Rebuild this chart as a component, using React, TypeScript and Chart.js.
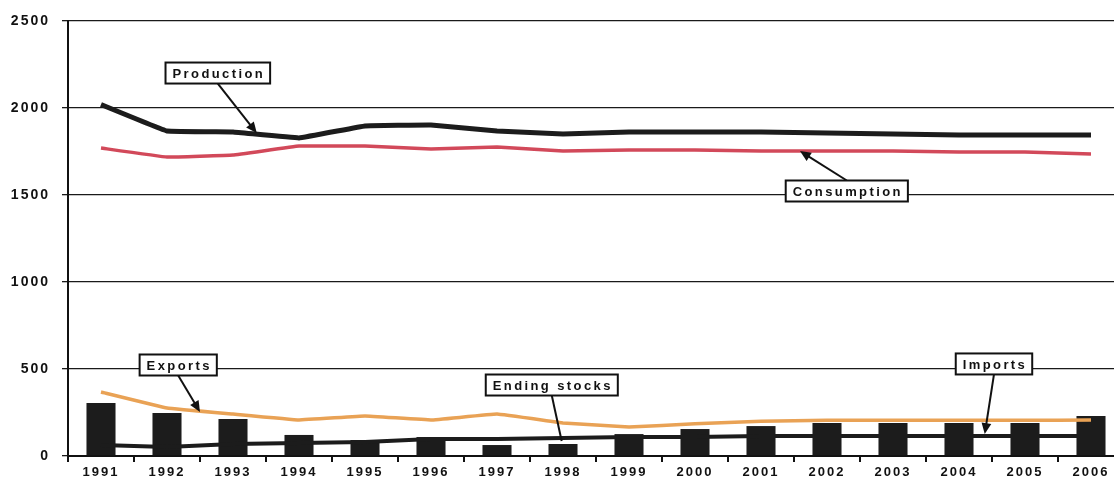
import { useEffect, useRef } from 'react';
import { Chart, registerables } from 'chart.js';

Chart.register(...registerables);

const years = ['1991', '1992', '1993', '1994', '1995', '1996', '1997', '1998', '1999', '2000', '2001', '2002', '2003', '2004', '2005', '2006'];
const production = [2020, 1868, 1862, 1828, 1897, 1902, 1868, 1851, 1862, 1862, 1862, 1857, 1851, 1845, 1845, 1845];
const consumption = [1770, 1718, 1730, 1781, 1781, 1765, 1776, 1753, 1759, 1759, 1753, 1753, 1753, 1747, 1747, 1736];
const exportsVals = [368, 276, 241, 207, 230, 207, 241, 190, 167, 185, 200, 205, 205, 205, 205, 207];
const importsVals = [63, 52, 69, 75, 80, 98, 98, 103, 109, 109, 115, 115, 115, 115, 115, 115];
const endingStocks = [305, 247, 213, 121, 92, 109, 63, 69, 126, 155, 172, 190, 190, 190, 190, 230];
const yTicks = [0, 500, 1000, 1500, 2000, 2500];

// Callout labels: box centre and pointer tip, both in (category index, value) units
const callouts = [
  { text: 'Production', bx: 1.77, by: 2201, tx: 2.36, ty: 1856, head: true },
  { text: 'Consumption', bx: 11.3, by: 1523, tx: 10.59, ty: 1753, head: true },
  { text: 'Exports', bx: 1.17, by: 523, tx: 1.5, ty: 253, head: true },
  { text: 'Ending stocks', bx: 6.83, by: 408, tx: 6.98, ty: 86, head: false },
  { text: 'Imports', bx: 13.53, by: 529, tx: 13.39, ty: 126, head: true },
];

const FONT = '"Liberation Sans", Arial, sans-serif';

const spacingPlugin = {
  id: 'spacing',
  beforeDraw(chart: any) {
    chart.ctx.letterSpacing = '2px';
  },
};

const calloutPlugin = {
  id: 'callouts',
  afterDatasetsDraw(chart: any) {
    const { ctx, scales } = chart;
    const xs = scales.x;
    const ys = scales.y;
    const xAt = (i: number) => {
      const a = xs.getPixelForValue(Math.floor(i));
      const b = xs.getPixelForValue(Math.floor(i) + 1);
      return a + (b - a) * (i - Math.floor(i));
    };
    ctx.save();
    ctx.font = `bold 13px ${FONT}`;
    ctx.letterSpacing = '2.4px';
    callouts.forEach((c) => {
      const cx = xAt(c.bx);
      const cy = ys.getPixelForValue(c.by);
      const tx = xAt(c.tx);
      const ty = ys.getPixelForValue(c.ty);
      const w = ctx.measureText(c.text).width + 12;
      const h = 21;
      // pointer
      const sy = ty > cy ? cy + h / 2 : cy - h / 2;
      const ang = Math.atan2(ty - sy, tx - cx);
      const hl = c.head ? 12 : 0;
      ctx.strokeStyle = '#111';
      ctx.lineWidth = 2;
      ctx.beginPath();
      ctx.moveTo(cx, sy);
      ctx.lineTo(tx - Math.cos(ang) * hl * 0.8, ty - Math.sin(ang) * hl * 0.8);
      ctx.stroke();
      if (c.head) {
        ctx.fillStyle = '#111';
        ctx.beginPath();
        ctx.moveTo(tx, ty);
        ctx.lineTo(tx - Math.cos(ang - 0.42) * hl, ty - Math.sin(ang - 0.42) * hl);
        ctx.lineTo(tx - Math.cos(ang + 0.42) * hl, ty - Math.sin(ang + 0.42) * hl);
        ctx.closePath();
        ctx.fill();
      }
      // box
      ctx.fillStyle = '#fff';
      ctx.fillRect(cx - w / 2, cy - h / 2, w, h);
      ctx.lineWidth = 2;
      ctx.strokeRect(cx - w / 2, cy - h / 2, w, h);
      ctx.fillStyle = '#111';
      ctx.textAlign = 'center';
      ctx.textBaseline = 'middle';
      ctx.fillText(c.text, cx + 1, cy + 1);
    });
    ctx.restore();
  },
};

export default function App() {
  const ref = useRef<HTMLCanvasElement>(null);

  useEffect(() => {
    const chart = new Chart(ref.current!, {
      type: 'bar',
      data: {
        labels: years,
        datasets: [
          { type: 'line', label: 'Production', data: production, borderColor: '#1c1c1c', borderWidth: 5, pointRadius: 0, tension: 0.05, order: 1 },
          { type: 'line', label: 'Consumption', data: consumption, borderColor: '#d2495a', borderWidth: 3.5, pointRadius: 0, tension: 0.05, order: 1 },
          { type: 'line', label: 'Exports', data: exportsVals, borderColor: '#e9a255', borderWidth: 3.5, pointRadius: 0, tension: 0.05, order: 1 },
          { type: 'line', label: 'Imports', data: importsVals, borderColor: '#1c1c1c', borderWidth: 4, pointRadius: 0, tension: 0.05, order: 1 },
          { type: 'bar', label: 'Ending stocks', data: endingStocks, backgroundColor: '#1c1c1c', barPercentage: 0.44, categoryPercentage: 1, order: 2 },
        ],
      },
      options: {
        responsive: false,
        animation: false,
        devicePixelRatio: 1,
        layout: { padding: { top: 21, right: 2, left: 0, bottom: 0 } },
        plugins: { legend: { display: false }, tooltip: { enabled: false } },
        scales: {
          x: {
            offset: true,
            grid: { offset: true, drawOnChartArea: false, drawTicks: true, tickLength: 6, color: '#111', lineWidth: 2 },
            border: { display: true, color: '#111', width: 2 },
            ticks: { color: '#111', font: { family: FONT, size: 13, weight: 'bold' }, padding: 3, maxRotation: 0, autoSkip: false },
            afterFit: (s: any) => { s.height = 25; },
          },
          y: {
            min: 0,
            max: 2500,
            afterBuildTicks: (s: any) => { s.ticks = yTicks.map((v) => ({ value: v })); },
            grid: { color: '#1a1a1a', lineWidth: 1.3, drawTicks: true, tickLength: 6 },
            border: { display: true, color: '#111', width: 2 },
            ticks: { color: '#111', font: { family: FONT, size: 14, weight: 'bold' }, padding: 12, callback: (v: any) => String(v) },
            afterFit: (s: any) => { s.width = 68; },
          },
        },
      },
      plugins: [spacingPlugin, calloutPlugin],
    } as any);
    return () => chart.destroy();
  }, []);

  return (
    <div style={{ position: 'fixed', left: 0, top: 0, width: 1114, height: 481, overflow: 'hidden', background: '#fff' }}>
      <canvas ref={ref} width={1126} height={481} style={{ display: 'block', width: 1126, height: 481 }} />
    </div>
  );
}
